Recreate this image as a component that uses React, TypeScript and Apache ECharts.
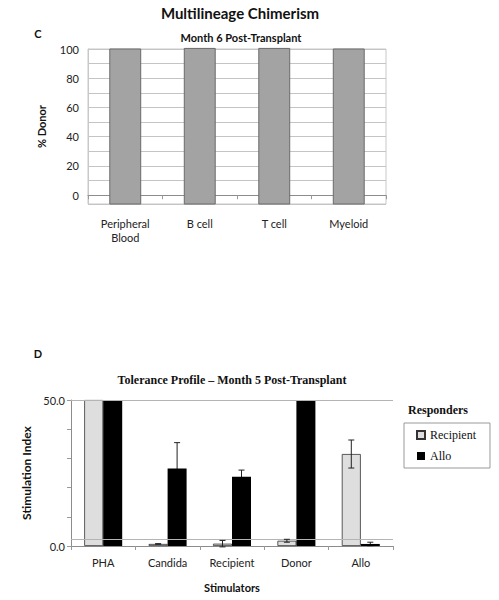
import React, { useEffect, useRef } from "react";
import * as echarts from "echarts";

// ---- Panel C data ----
const lineageCategories = ["Peripheral\nBlood", "B cell", "T cell", "Myeloid"];
const donorPercent = [100, 100.4, 100.4, 100];
const donorAxisMin = -6;
const donorAxisMax = 100;

// ---- Panel D data ----
const stimulators = ["PHA", "Candida", "Recipient", "Donor", "Allo"];
const recipientSI = [50, 0.7, 0.8, 1.8, 31.5];
const recipientErr = [0, 0.1, 1.1, 0.5, 4.8];
const alloSI = [50, 26.5, 23.7, 50, 0.7];
const alloErr = [0, 8.9, 2.3, 0, 0.6];
const siThreshold = 2.2;
const siTopLine = 50;

const SANS = "Lato";
const SERIF = "Liberation Serif";
const BAR_D = 19;

function errorSeries(name: string, values: number[], errs: number[], sign: number, z: number) {
  return {
    type: "custom",
    name,
    xAxisIndex: 1,
    yAxisIndex: 1,
    z,
    silent: true,
    data: values.map((v, i) => [i, v, errs[i]]),
    encode: { x: 0, y: 1 },
    renderItem: (params: any, api: any) => {
      const i = api.value(0);
      const v = api.value(1);
      const e = api.value(2);
      if (!e) return null;
      const hi = api.coord([i, v + e]);
      const lo = api.coord([i, v - e]);
      const x = hi[0] + sign * (BAR_D / 2);
      const cap = 3;
      const st = { stroke: "#222", lineWidth: 1 };
      return {
        type: "group",
        children: [
          { type: "line", shape: { x1: x, y1: hi[1], x2: x, y2: lo[1] }, style: st },
          { type: "line", shape: { x1: x - cap, y1: hi[1], x2: x + cap, y2: hi[1] }, style: st },
          { type: "line", shape: { x1: x - cap, y1: lo[1], x2: x + cap, y2: lo[1] }, style: st },
        ],
      };
    },
  };
}

export default function App() {
  const ref = useRef<HTMLDivElement>(null);
  useEffect(() => {
    document.body.style.margin = "0";
    const chart = echarts.init(ref.current!, null, { renderer: "svg" });
    chart.setOption({
      animation: false,
      backgroundColor: "#ffffff",
      textStyle: { fontFamily: SANS },
      grid: [
        { left: 88, right: 113, top: 49, bottom: 396, show: true, borderColor: "#c8c8c8", borderWidth: 1 },
        { left: 71, right: 106, top: 400, bottom: 54 },
      ],
      xAxis: [
        {
          type: "category",
          gridIndex: 0,
          data: lineageCategories,
          axisLine: { lineStyle: { color: "#8c8c8c" } },
          axisTick: { show: true, length: 4, lineStyle: { color: "#999" } },
          axisLabel: { color: "#222", fontSize: 11, margin: 12, lineHeight: 14, fontFamily: SANS },
        },
        {
          type: "category",
          gridIndex: 1,
          data: stimulators,
          axisLine: { lineStyle: { color: "#8c8c8c" } },
          axisTick: { show: true, length: 4, lineStyle: { color: "#999" } },
          axisLabel: { color: "#222", fontSize: 11, margin: 11, fontFamily: SANS },
          name: "Stimulators",
          nameLocation: "middle",
          nameGap: 36,
          nameTextStyle: { fontWeight: "bold", fontSize: 11, color: "#111", fontFamily: SANS },
        },
      ],
      yAxis: [
        {
          type: "value",
          gridIndex: 0,
          min: donorAxisMin,
          max: donorAxisMax,
          splitNumber: 11,
          axisLine: { show: true, lineStyle: { color: "#c8c8c8" } },
          axisTick: { show: false },
          splitLine: { show: true, lineStyle: { color: "#c4c4c4" } },
          axisLabel: {
            color: "#222",
            fontSize: 11,
            margin: 9,
            fontFamily: SANS,
            formatter: (v: number) => (v >= 0 && Math.round(v) % 20 === 0 ? String(Math.round(v)) : ""),
          },
          name: "% Donor",
          nameLocation: "middle",
          nameRotate: 90,
          nameGap: 41,
          nameTextStyle: { fontWeight: "bold", fontSize: 11, color: "#111", fontFamily: SANS },
        },
        {
          type: "value",
          gridIndex: 1,
          min: 0,
          max: 50,
          interval: 10,
          axisLine: { show: true, lineStyle: { color: "#8c8c8c" } },
          axisTick: { show: true, length: 4, lineStyle: { color: "#999" } },
          splitLine: { show: false },
          axisLabel: {
            color: "#222",
            fontSize: 11,
            margin: 6,
            fontFamily: SANS,
            formatter: (v: number) => (v === 0 || v === 50 ? v.toFixed(1) : ""),
          },
          name: "Stimulation Index",
          nameLocation: "middle",
          nameRotate: 90,
          nameGap: 24,
          nameTextStyle: { fontWeight: "bold", fontSize: 12, color: "#111", fontFamily: SANS },
        },
      ],
      legend: {
        data: ["Recipient", "Allo"],
        orient: "vertical",
        left: 404,
        top: 423,
        width: 86,
        padding: [6, 14, 6, 12],
        itemGap: 9,
        itemWidth: 8,
        itemHeight: 8,
        icon: "rect",
        borderColor: "#9a9a9a",
        borderWidth: 1,
        textStyle: { fontFamily: SERIF, fontSize: 12, color: "#111" },
      },
      series: [
        {
          type: "custom",
          name: "Donor %",
          xAxisIndex: 0,
          yAxisIndex: 0,
          data: donorPercent.map((v, i) => [i, v]),
          encode: { x: 0, y: 1 },
          renderItem: (params: any, api: any) => {
            const i = api.value(0);
            const v = api.value(1);
            const top = api.coord([i, v]);
            const base = api.coord([i, donorAxisMin]);
            const w = api.size([1, 0])[0] * 0.415;
            return {
              type: "rect",
              shape: { x: top[0] - w / 2, y: top[1], width: w, height: base[1] - top[1] },
              style: { fill: "#a3a3a3", stroke: "#6a6a6a", lineWidth: 1 },
            };
          },
        },
        {
          type: "bar",
          name: "Recipient",
          xAxisIndex: 1,
          yAxisIndex: 1,
          data: recipientSI,
          barWidth: BAR_D,
          barGap: "0%",
          z: 2,
          itemStyle: { color: "#dedede", borderColor: "#333", borderWidth: 0.8 },
        },
        {
          type: "bar",
          name: "Allo",
          xAxisIndex: 1,
          yAxisIndex: 1,
          data: alloSI,
          barWidth: BAR_D,
          barGap: "0%",
          z: 2,
          itemStyle: { color: "#000000" },
          markLine: {
            silent: true,
            symbol: "none",
            label: { show: false },
            lineStyle: { color: "#b4b4b4", width: 1, type: "solid" },
            data: [{ yAxis: siTopLine }, { yAxis: siThreshold }],
          },
        },
        errorSeries("Recipient error", recipientSI, recipientErr, -1, 5),
        errorSeries("Allo error", alloSI, alloErr, 1, 1),
      ],
      graphic: [
        { type: "text", x: 240, y: 13, style: { text: "Multilineage Chimerism", font: `bold 15px ${SANS}`, fill: "#111", textAlign: "center", textVerticalAlign: "middle" } },
        { type: "text", x: 38, y: 33, style: { text: "C", font: `bold 11px ${SANS}`, fill: "#111", textAlign: "center", textVerticalAlign: "middle" } },
        { type: "text", x: 241, y: 37, style: { text: "Month 6 Post-Transplant", font: `bold 11px ${SANS}`, fill: "#111", textAlign: "center", textVerticalAlign: "middle" } },
        { type: "text", x: 38, y: 353, style: { text: "D", font: `bold 11px ${SANS}`, fill: "#111", textAlign: "center", textVerticalAlign: "middle" } },
        { type: "text", x: 232, y: 380, style: { text: "Tolerance Profile \u2013 Month 5 Post-Transplant", font: `bold 12px ${SERIF}`, fill: "#111", textAlign: "center", textVerticalAlign: "middle" } },
        { type: "text", x: 408, y: 410, style: { text: "Responders", font: `bold 12px ${SERIF}`, fill: "#111", textAlign: "left", textVerticalAlign: "middle" } },
      ],
    });
    return () => chart.dispose();
  }, []);
  return <div ref={ref} style={{ width: 499, height: 600 }} />;
}
